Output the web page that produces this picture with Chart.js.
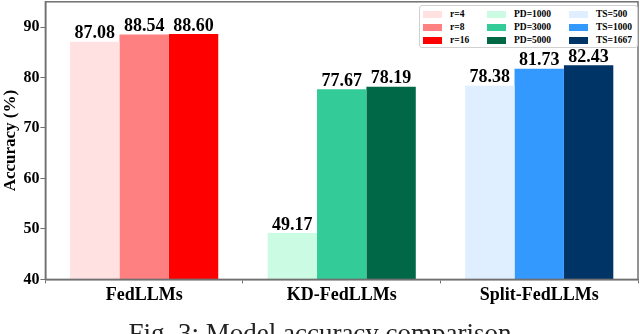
<!DOCTYPE html>
<html>
<head>
<meta charset="utf-8">
<script src="https://cdn.jsdelivr.net/npm/chart.js@4.4.1/dist/chart.umd.min.js"></script>
<style>
  html, body { margin: 0; padding: 0; background: #fff; overflow: hidden; }
  #wrap { position: relative; width: 640px; height: 334px; }
  #legend {
    position: absolute; left: 419px; top: 5px; width: 219px; height: 43px;
    border: 1px solid #d0d0d0; border-radius: 3px; background: #fff;
    box-sizing: border-box;
    font: bold 9.5px "Liberation Serif", serif; color: #000;
  }
  #legend .item { position: absolute; height: 12px; line-height: 12px; white-space: nowrap; }
  #legend .sw { position: absolute; top: 3px; width: 19px; height: 7px; }
  #legend .tx { position: absolute; left: 27px; top: 0; }
  #caption {
    position: absolute; left: 0; top: 320px; width: 640px; text-align: center;
    font: 27px "Liberation Serif", serif; line-height: 27px; color: #222;
  }
</style>
</head>
<body>
<div id="wrap">
  <canvas id="accChart" width="640" height="334"></canvas>
  <div id="legend"></div>
  <div id="caption">Fig. 3: Model accuracy comparison</div>
</div>
<script>
// data
const methods = ["FedLLMs", "KD-FedLLMs", "Split-FedLLMs"];
const seriesNames = ["r=4", "r=8", "r=16", "PD=1000", "PD=3000", "PD=5000", "TS=500", "TS=1000", "TS=1667"];
const seriesGroup = [0, 0, 0, 1, 1, 1, 2, 2, 2];
const seriesValues = [87.08, 88.54, 88.60, 49.17, 77.67, 78.19, 78.38, 81.73, 82.43];
const seriesColors = ["#ffe1e1", "#ff8080", "#ff0000", "#ccfbe4", "#33cc99", "#006846", "#e0efff", "#3399ff", "#003366"];
const yTicks = [40, 50, 60, 70, 80, 90];

const serif = "'Liberation Serif', 'Times New Roman', serif";

const datasets = seriesNames.map((name, i) => {
  const data = methods.map((m, j) => (j === seriesGroup[i] ? seriesValues[i] : null));
  return {
    label: name,
    data: data,
    backgroundColor: seriesColors[i],
    borderWidth: 0,
    barPercentage: 1.0,
    categoryPercentage: 0.75
  };
});

// value labels above each bar
const barLabels = {
  id: "barLabels",
  afterDatasetsDraw(chart) {
    const ctx = chart.ctx;
    ctx.save();
    ctx.font = "bold 18px " + serif;
    ctx.fillStyle = "#000";
    ctx.textAlign = "center";
    ctx.textBaseline = "bottom";
    chart.data.datasets.forEach((ds, i) => {
      chart.getDatasetMeta(i).data.forEach((bar, j) => {
        if (ds.data[j] == null) return;
        ctx.fillText(ds.data[j].toFixed(2), bar.x, bar.y + 1);
      });
    });
    ctx.restore();
  }
};

// box around the plot
const frame = {
  id: "frame",
  afterDraw(chart) {
    const a = chart.chartArea;
    const ctx = chart.ctx;
    ctx.save();
    ctx.strokeStyle = "#707070";
    ctx.lineWidth = 1.5;
    ctx.strokeRect(a.left, a.top, a.right - a.left, a.bottom - a.top);
    ctx.restore();
  }
};

const ctx = document.getElementById("accChart").getContext("2d");
new Chart(ctx, {
  type: "bar",
  data: { labels: methods, datasets: datasets },
  options: {
    responsive: false,
    animation: false,
    skipNull: true,
    layout: { padding: { left: 0, right: 2, top: 1, bottom: 27 } },
    plugins: {
      legend: { display: false },
      tooltip: { enabled: false }
    },
    scales: {
      x: {
        grid: { display: true, drawOnChartArea: false, tickLength: 4, color: "#707070" },
        border: { display: true, color: "#707070", width: 1.5 },
        ticks: { color: "#000", font: { family: serif, size: 18, weight: "bold" }, padding: 1 }
      },
      y: {
        min: 40,
        max: 95,
        afterBuildTicks: axis => { axis.ticks = yTicks.map(v => ({ value: v })); },
        grid: { display: true, drawOnChartArea: false, tickLength: 5, color: "#707070" },
        border: { display: true, color: "#707070", width: 1.5 },
        ticks: { color: "#000", font: { family: serif, size: 16, weight: "bold", lineHeight: 0.1 }, padding: 1 },
        title: {
          display: true,
          text: "Accuracy (%)",
          color: "#000",
          font: { family: serif, size: 17, weight: "bold" },
          padding: { top: 0, bottom: 2 }
        }
      }
    }
  },
  plugins: [barLabels, frame]
});

// legend, column by column like the original
const legend = document.getElementById("legend");
const colX = [3, 67, 149];
const rowY = [8, 21, 34];
seriesNames.forEach((name, i) => {
  const item = document.createElement("div");
  item.className = "item";
  item.style.left = colX[seriesGroup[i]] + "px";
  item.style.top = (rowY[i % 3] - 6) + "px";
  item.innerHTML = '<span class="sw" style="background:' + seriesColors[i] + '"></span><span class="tx">' + name + "</span>";
  legend.appendChild(item);
});
</script>
</body>
</html>
